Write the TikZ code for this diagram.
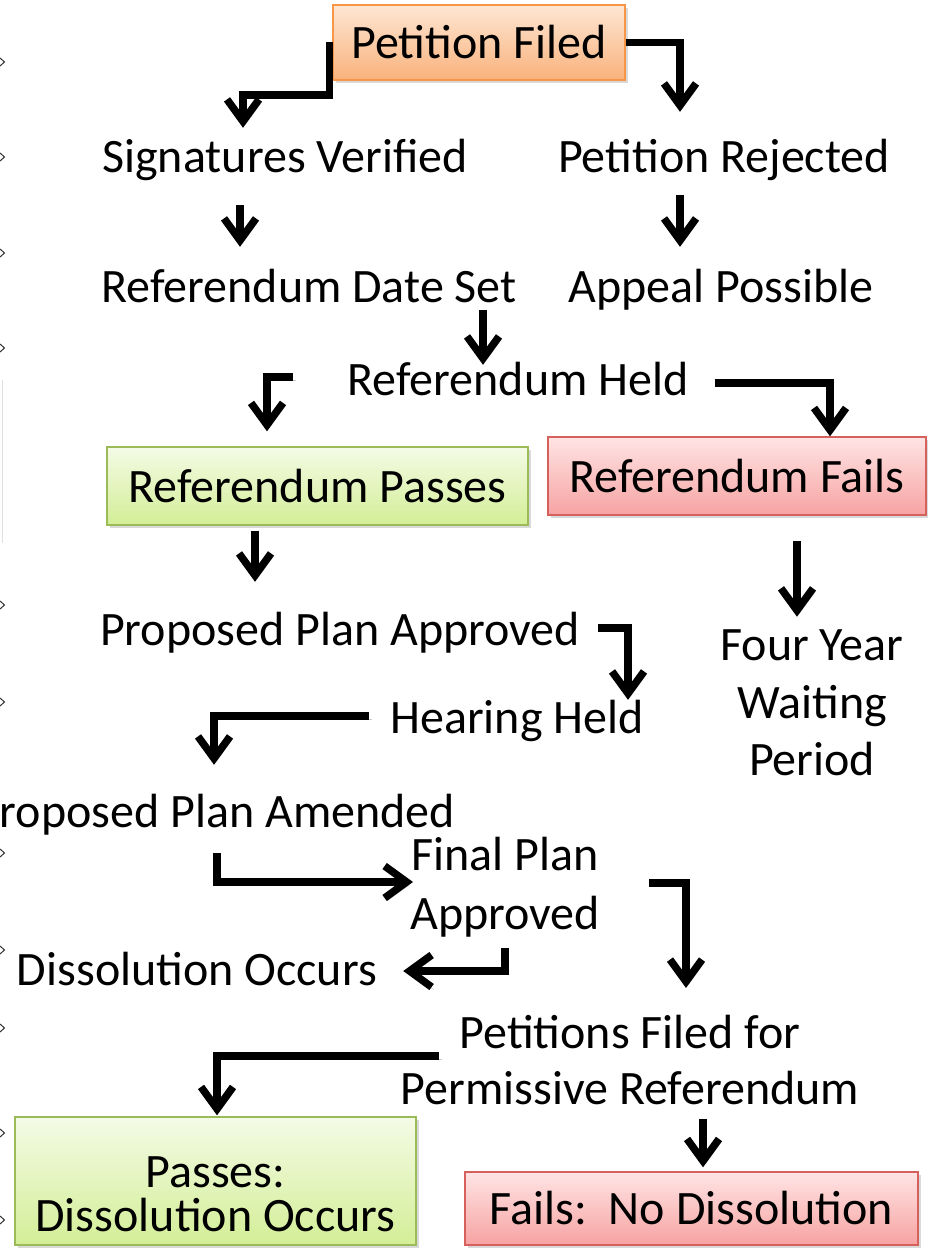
\documentclass[tikz,border=0pt]{standalone}
\usepackage{fontspec}
\setmainfont{Carlito}
\usetikzlibrary{arrows.meta,shadows}
\definecolor{orangetop}{HTML}{FDE6D3}
\definecolor{orangebot}{HTML}{F9B27C}
\definecolor{orangeline}{HTML}{F79646}
\definecolor{greentop}{HTML}{F4FBE6}
\definecolor{greenbot}{HTML}{D3EE96}
\definecolor{greenline}{HTML}{9BBB59}
\definecolor{redtop}{HTML}{FFE4E4}
\definecolor{redbot}{HTML}{F6A3A2}
\definecolor{redline}{HTML}{D5605C}
\tikzstyle{txt} = [inner xsep=2pt, inner ysep=0pt, text height=30pt, text depth=0pt, font=\fontsize{48}{57}\selectfont]
\tikzstyle{txtm} = [inner sep=0pt, align=center]
\tikzstyle{box} = [rectangle, draw, line width=1.4pt, inner sep=0pt, align=center, font=\fontsize{48}{46}\selectfont, drop shadow={opacity=0.3, shadow xshift=3pt, shadow yshift=-3pt}]
\tikzstyle{orangebox} = [box, draw=orangeline, top color=orangetop, bottom color=orangebot]
\tikzstyle{greenbox} = [box, draw=greenline, top color=greentop, bottom color=greenbot]
\tikzstyle{redbox} = [box, draw=redline, top color=redtop, bottom color=redbot]
\tikzstyle{link} = [draw, line width=7.5pt, -{Straight Barb[length=22pt,width=32pt]}, preaction={draw=black!20, transform canvas={shift={(2.5pt,-3pt)}}}]
\tikzstyle{chev} = [draw=black!80, line width=1pt]
\begin{document}
\begin{tikzpicture}[x=1pt,y=-1pt]

\useasboundingbox (0,0) rectangle (927,1255);

% left margin marks
\draw[chev] (0,58) -- (4.5,62) -- (0,66);
\draw[chev] (0,153) -- (4.5,157) -- (0,161);
\draw[chev] (0,249) -- (4.5,253) -- (0,257);
\draw[chev] (0,344) -- (4.5,348) -- (0,352);
\draw[chev] (0,601) -- (4.5,605) -- (0,609);
\draw[chev] (0,698) -- (4.5,702) -- (0,706);
\draw[chev] (0,849) -- (4.5,853) -- (0,857);
\draw[chev] (0,946) -- (4.5,950) -- (0,954);
\draw[chev] (0,1024) -- (4.5,1028) -- (0,1032);
\draw[chev] (0,1129) -- (4.5,1133) -- (0,1137);
\draw[chev] (0,1216) -- (4.5,1220) -- (0,1224);
\draw[black!12, line width=0.8pt] (2,380) -- (2,543);

\node[orangebox, minimum width=292pt, minimum height=75pt] (filed) at (479,42.5) {Petition Filed};
\node[txt, below of=filed, node distance=114.5pt, xshift=-194pt] (verified) {Signatures Verified};
\path[link] ([xshift=-3pt]filed.west) -- ++(0,52.5) -| ([shift={(-42pt,14pt)}]verified.north);
\node[txt, right of=verified, node distance=439pt] (rejected) {Petition Rejected};
\path[link] (filed.east) -| ([shift={(-44pt,30pt)}]rejected.north);
\node[txt, below of=verified, node distance=130pt, xshift=24pt] (dateset) {Referendum Date Set};
\path[link] ([shift={(-45pt,-33pt)}]verified.south) -- ([shift={(-69pt,25pt)}]dateset.north);
\node[txt, below of=rejected, node distance=130pt, xshift=-3pt] (appeal) {Appeal Possible};
\path[link] ([shift={(-44pt,-23pt)}]rejected.south) -- ([shift={(-41pt,25pt)}]appeal.north);
\node[txt, below of=dateset, node distance=93pt, xshift=209pt] (held) {Referendum Held};
\path[link] ([shift={(174pt,-8pt)}]dateset.south) -- ([xshift=-35pt]held.north);

\node[greenbox, minimum width=421pt, minimum height=78pt, below of=dateset, node distance=199pt, xshift=8.5pt] (passes) {Referendum Passes};
\path[link] ([shift={(-52pt,3pt)}]held.west) -| ([shift={(-50.5pt,15pt)}]passes.north);
\node[redbox, minimum width=378pt, minimum height=78pt, right of=passes, node distance=419.5pt, yshift=10pt] (fails) {Referendum Fails};
\path[link] ([shift={(24pt,-3pt)}]held.east) -| ([xshift=93pt]fails.north);

\node[txt, below of=passes, node distance=144pt, xshift=22.5pt] (approved) {Proposed Plan Approved};
\path[link] ([shift={(-62.5pt,-5pt)}]passes.south) -- ([shift={(-85pt,33pt)}]approved.north);
\node[txtm, font=\fontsize{48}{57.5}\selectfont, below of=fails, node distance=227pt, xshift=75pt] (waiting) {Four Year\\Waiting\\Period};
\path[link] ([shift={(60pt,-25pt)}]fails.south) -- ([shift={(-15pt,13pt)}]waiting.north);
\node[txt, below of=approved, node distance=88pt, xshift=177pt] (hearing) {Hearing Held};
\path[link] ([shift={(16pt,2pt)}]approved.east) -| ([shift={(111pt,3pt)}]hearing.north);
\node[txt, below of=approved, node distance=182pt, xshift=-125pt] (amended) {Proposed Plan Amended};
\path[link] ([shift={(-19pt,2pt)}]hearing.west) -| ([shift={(-1pt,32pt)}]amended.north);

\node[txtm, font=\fontsize{48}{59}\selectfont, below of=hearing, node distance=169pt, xshift=-12pt] (final) {Final Plan\\Approved};
\path[link] ([shift={(2pt,-26pt)}]amended.south) |- ([shift={(3pt,5pt)}]final.west);
\node[txt, below of=amended, node distance=158pt, xshift=-18pt] (occurs) {Dissolution Occurs};
\path[link] ([yshift=-11pt]final.south) |- ([shift={(24pt,-1pt)}]occurs.east);
\node[txtm, font=\fontsize{48}{56}\selectfont, below of=final, node distance=173pt, xshift=125pt] (petitions) {Petitions Filed for\\Permissive Referendum};
\path[link] ([shift={(49pt,4pt)}]final.east) -| ([shift={(56pt,27pt)}]petitions.north);

\node[greenbox, minimum width=401pt, minimum height=128pt, font=\fontsize{48}{44}\selectfont, below of=occurs, node distance=211pt, xshift=18.5pt] (yes) {\rule{0pt}{58pt}Passes:\\Dissolution Occurs};
\path[link] ([shift={(38.5pt,4pt)}]petitions.west) -| ([shift={(1.5pt,1pt)}]yes.north);
\node[redbox, minimum width=453pt, minimum height=73pt, below of=petitions, node distance=148.5pt, xshift=61.5pt] (no) {Fails:\ \ No Dissolution};
\path[link] ([shift={(73pt,-14pt)}]petitions.south) -- ([shift={(11.5pt,4pt)}]no.north);

\end{tikzpicture}
\end{document}
